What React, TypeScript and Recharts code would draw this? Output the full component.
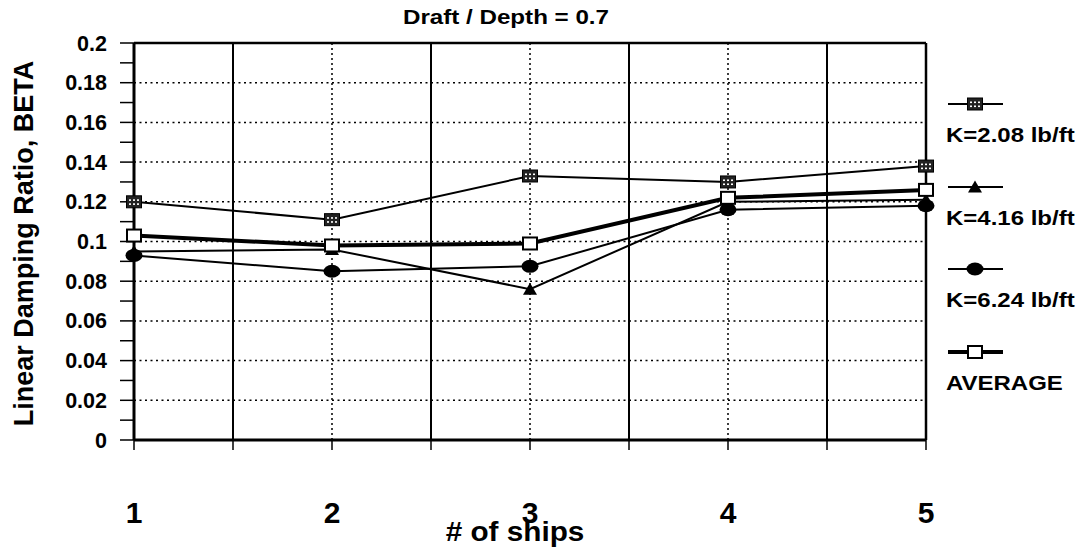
import { LineChart, Line, XAxis, YAxis, ReferenceLine, Legend, Label } from "recharts";

// number of ships in the group
const ships = [1, 2, 3, 4, 5];

// linear damping ratio BETA for each mooring stiffness
const k208 = [0.12, 0.111, 0.133, 0.13, 0.138];
const k416 = [0.095, 0.096, 0.076, 0.12, 0.121];
const k624 = [0.093, 0.085, 0.0875, 0.116, 0.118];
const average = [0.103, 0.098, 0.099, 0.122, 0.126];

const seriesNames = ["K=2.08 lb/ft", "K=4.16 lb/ft", "K=6.24 lb/ft", "AVERAGE"];

const xTicks = [1, 1.5, 2, 2.5, 3, 3.5, 4, 4.5, 5];
const yTicks = [
  0, 0.01, 0.02, 0.03, 0.04, 0.05, 0.06, 0.07, 0.08, 0.09, 0.1,
  0.11, 0.12, 0.13, 0.14, 0.15, 0.16, 0.17, 0.18, 0.19, 0.2,
];
const dottedY = [0.02, 0.04, 0.06, 0.08, 0.1, 0.12, 0.14, 0.16, 0.18];
const solidX = [1.5, 2.5, 3.5, 4.5];
const dottedX = [2, 3, 4];

const data = ships.map((n, i) => ({
  ships: n,
  k208: k208[i],
  k416: k416[i],
  k624: k624[i],
  average: average[i],
}));

const FONT = "'Liberation Sans', Arial, sans-serif";

type MarkProps = { cx?: number; cy?: number };

function HatchSquare({ cx = 0, cy = 0 }: MarkProps) {
  const spots: JSX.Element[] = [];
  [-4, 0, 4].forEach((dx) =>
    [-2.5, 1.5].forEach((dy) =>
      spots.push(
        <rect key={`${dx}${dy}`} x={cx + dx - 1} y={cy + dy} width={2} height={1.6} fill="#fff" />
      )
    )
  );
  return (
    <g>
      <rect x={cx - 7.5} y={cy - 6} width={15} height={12} fill="#222" stroke="#000" strokeWidth={1} />
      {spots}
    </g>
  );
}

function Triangle({ cx = 0, cy = 0 }: MarkProps) {
  return <path d={`M${cx - 7},${cy + 5.5} L${cx},${cy - 6.5} L${cx + 7},${cy + 5.5} Z`} fill="#000" />;
}

function Blob({ cx = 0, cy = 0 }: MarkProps) {
  return <ellipse cx={cx} cy={cy} rx={8.5} ry={6.5} fill="#000" />;
}

function OpenSquare({ cx = 0, cy = 0 }: MarkProps) {
  return <rect x={cx - 7} y={cy - 6} width={14} height={12} fill="#fff" stroke="#000" strokeWidth={2} />;
}

const markers = [HatchSquare, Triangle, Blob, OpenSquare];
const lineWidths = [2, 2, 2, 4];

function ShipTick(props: any) {
  const { x, y, payload } = props;
  if (!Number.isInteger(payload.value)) return null;
  return (
    <text x={x} y={y + 71} textAnchor="middle" fontFamily={FONT} fontWeight="bold" fontSize={30} fill="#000">
      {payload.value}
    </text>
  );
}

function BetaTick(props: any) {
  const { x, y, payload } = props;
  const v: number = payload.value;
  if (Math.round(v * 100) % 2 !== 0) return null;
  return (
    <text x={x} y={y + 7.5} textAnchor="end" fontFamily={FONT} fontWeight="bold" fontSize={21.5} fill="#000">
      {String(v)}
    </text>
  );
}

function LegendBox() {
  return (
    <div style={{ position: "relative", width: 136, height: 320, fontFamily: FONT }}>
      {seriesNames.map((name, i) => {
        const Mark = markers[i];
        const top = i * 82.7;
        return (
          <div key={name}>
            <svg
              width={60}
              height={16}
              style={{ position: "absolute", left: 4, top: top + 6, overflow: "visible" }}
            >
              <line x1={0} y1={8} x2={55} y2={8} stroke="#000" strokeWidth={lineWidths[i]} />
              <Mark cx={27} cy={8} />
            </svg>
            <div
              style={{
                position: "absolute",
                left: 2,
                top: top + 35,
                fontSize: 20.5,
                lineHeight: 1,
                fontWeight: "bold",
                whiteSpace: "nowrap",
                transform: "scaleX(1.17)",
                transformOrigin: "left",
              }}
            >
              {name}
            </div>
          </div>
        );
      })}
    </div>
  );
}

export default function App() {
  return (
    <div style={{ position: "absolute", left: 0, top: 0, width: 1080, height: 548, background: "#fff" }}>
      <div
        style={{
          position: "absolute",
          left: 506,
          top: 6,
          fontFamily: FONT,
          fontSize: 21,
          lineHeight: 1,
          fontWeight: "bold",
          whiteSpace: "nowrap",
          transform: "translateX(-50%) scaleX(1.15)",
        }}
      >
        Draft / Depth = 0.7
      </div>
      <LineChart width={1080} height={548} data={data} margin={{ top: 43, right: 154, bottom: 0, left: 0 }}>
        {solidX.map((v) => (
          <ReferenceLine key={`sx${v}`} x={v} stroke="#000" strokeWidth={2} />
        ))}
        {dottedX.map((v) => (
          <ReferenceLine key={`dx${v}`} x={v} stroke="#000" strokeWidth={1.5} strokeDasharray="2 3" />
        ))}
        {dottedY.map((v) => (
          <ReferenceLine key={`dy${v}`} y={v} stroke="#000" strokeWidth={1.5} strokeDasharray="2 3.5" />
        ))}
        <ReferenceLine y={0.2} stroke="#000" strokeWidth={2.5} />
        <ReferenceLine x={5} stroke="#000" strokeWidth={2.5} />
        <XAxis
          dataKey="ships"
          type="number"
          domain={[1, 5]}
          ticks={xTicks}
          interval={0}
          height={108}
          tickSize={10}
          tickMargin={2}
          axisLine={{ stroke: "#000", strokeWidth: 3 }}
          tickLine={{ stroke: "#000", strokeWidth: 1.5 }}
          tick={<ShipTick />}
        >
          <Label
            content={({ viewBox }: any) => {
              const cx = viewBox.x + viewBox.width / 2 - 15;
              return (
                <text
                  transform={`translate(${cx},541) scale(1.1,1)`}
                  textAnchor="middle"
                  fontFamily={FONT}
                  fontWeight="bold"
                  fontSize={27}
                  fill="#000"
                >
                  # of ships
                </text>
              );
            }}
          />
        </XAxis>
        <YAxis
          type="number"
          domain={[0, 0.2]}
          ticks={yTicks}
          interval={0}
          width={134}
          tickSize={14}
          tickMargin={13}
          axisLine={{ stroke: "#000", strokeWidth: 3 }}
          tickLine={{ stroke: "#000", strokeWidth: 1.5 }}
          tick={<BetaTick />}
        >
          <Label
            content={({ viewBox }: any) => {
              const cy = viewBox.y + viewBox.height / 2 + 2;
              return (
                <text
                  transform={`translate(33,${cy}) rotate(-90)`}
                  textAnchor="middle"
                  fontFamily={FONT}
                  fontWeight="bold"
                  fontSize={27}
                  fill="#000"
                >
                  Linear Damping Ratio, BETA
                </text>
              );
            }}
          />
        </YAxis>
        <Legend
          layout="vertical"
          align="center"
          verticalAlign="middle"
          wrapperStyle={{ left: 944, top: 90, width: 136 }}
          content={() => <LegendBox />}
        />
        <Line
          dataKey="k208"
          name={seriesNames[0]}
          type="linear"
          stroke="#000"
          strokeWidth={2}
          dot={(p: any) => <HatchSquare key={`a${p.index}`} cx={p.cx} cy={p.cy} />}
          activeDot={false}
          isAnimationActive={false}
        />
        <Line
          dataKey="k416"
          name={seriesNames[1]}
          type="linear"
          stroke="#000"
          strokeWidth={2}
          dot={(p: any) => <Triangle key={`b${p.index}`} cx={p.cx} cy={p.cy} />}
          activeDot={false}
          isAnimationActive={false}
        />
        <Line
          dataKey="k624"
          name={seriesNames[2]}
          type="linear"
          stroke="#000"
          strokeWidth={2}
          dot={(p: any) => <Blob key={`c${p.index}`} cx={p.cx} cy={p.cy} />}
          activeDot={false}
          isAnimationActive={false}
        />
        <Line
          dataKey="average"
          name={seriesNames[3]}
          type="linear"
          stroke="#000"
          strokeWidth={4}
          dot={(p: any) => <OpenSquare key={`d${p.index}`} cx={p.cx} cy={p.cy} />}
          activeDot={false}
          isAnimationActive={false}
        />
      </LineChart>
    </div>
  );
}
